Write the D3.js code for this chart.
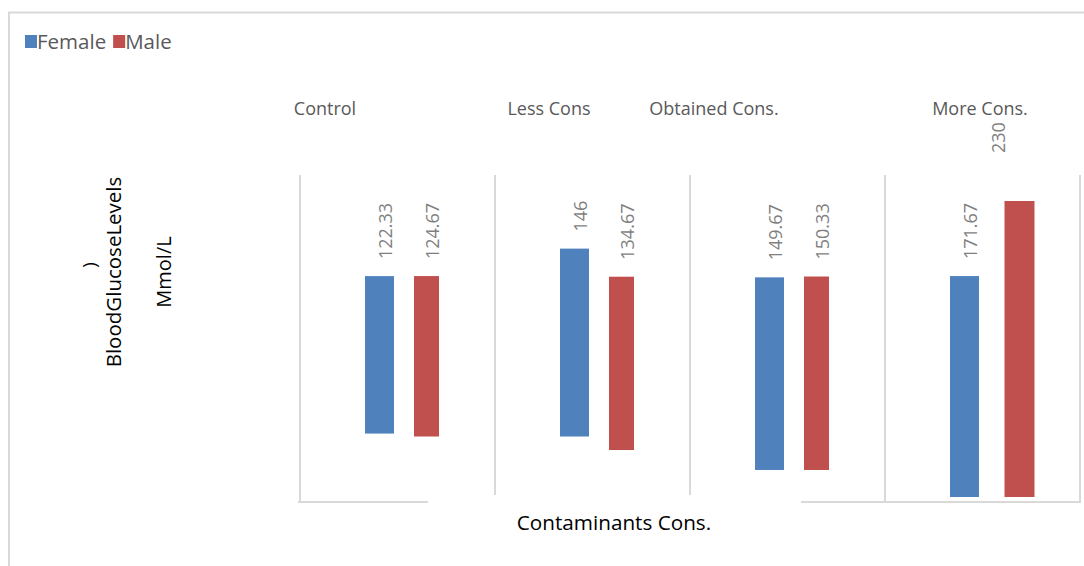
<!DOCTYPE html>
<html>
<head>
<meta charset="utf-8">
<script src="https://cdnjs.cloudflare.com/ajax/libs/d3/7.8.5/d3.min.js"></script>
<style>
    body { margin: 0; background: #fff; }
    svg text { font-family: "Open Sans", "Noto Sans", sans-serif; }
</style>
</head>
<body>
<svg id="chart" width="1084" height="566"></svg>
<script>
// Data
var categories = ["Control", "Less Cons", "Obtained Cons.", "More Cons."];
var series = ["Female", "Male"];
var femaleValues = [122.33, 146, 149.67, 171.67];
var maleValues = [124.67, 134.67, 150.33, 230];
// invisible offset each floating bar starts from (same units as the values)
var femaleBase = [49.3, 47, 21, 0];
var maleBase = [47, 36.5, 21, 0];
var colors = ["#4F81BD", "#C0504D"];

var svg = d3.select("#chart");

// outer chart frame (only top and left edges show)
svg.append("path")
    .attr("d", "M9,566 V12.5 H1084")
    .attr("fill", "none")
    .attr("stroke", "#D9D9D9")
    .attr("stroke-width", 2);

var x0 = d3.scaleBand().domain(categories).range([300, 1080]);
var x1 = d3.scaleBand().domain(series).range([56, 150]);
var y = d3.scaleLinear().domain([0, 230]).range([497, 201]);

// panel separators
var grid = svg.append("g").attr("stroke", "#D9D9D9").attr("stroke-width", 2);
categories.forEach(function(c, i) {
    var xx = x0(c);
    grid.append("line")
        .attr("x1", xx).attr("x2", xx)
        .attr("y1", 175).attr("y2", (i == 0 || i == 3) ? 503 : 495);
});
grid.append("line").attr("x1", 1080).attr("x2", 1080).attr("y1", 175).attr("y2", 503);
grid.append("line").attr("x1", 298).attr("x2", 428).attr("y1", 502).attr("y2", 502);
grid.append("line").attr("x1", 801).attr("x2", 1081).attr("y1", 502).attr("y2", 502);

// build rows for the bars
var rows = [];
categories.forEach(function(c, i) {
    rows.push({cat: c, s: "Female", value: femaleValues[i], base: femaleBase[i], color: colors[0], w: 29});
    rows.push({cat: c, s: "Male", value: maleValues[i], base: maleBase[i], color: colors[1], w: (i == 3 ? 30 : 25)});
});
var maxValue = d3.max(rows, function(d) { return d.value; });

var cx = function(d) {
    var off = (d.s == "Male" && d.value == maxValue) ? 8 : 0;
    return x0(d.cat) + x1(d.s) + x1.bandwidth() / 2 + off;
};

svg.append("g").selectAll("rect")
    .data(rows)
    .enter()
    .append("rect")
    .attr("x", function(d) { return cx(d) - d.w / 2; })
    .attr("width", function(d) { return d.w; })
    .attr("y", function(d) { return y(d.base + d.value); })
    .attr("height", function(d) { return y(d.base) - y(d.base + d.value); })
    .attr("fill", function(d) { return d.color; });

// value labels, rotated
svg.append("g").selectAll("text")
    .data(rows)
    .enter()
    .append("text")
    .attr("transform", function(d) {
        var top = y(d.base + d.value);
        var isMax = d.value == maxValue;
        var lx = isMax ? cx(d) - 15 : cx(d) + 12;
        var ly = top - (isMax ? 48 : 17);
        return "translate(" + lx + "," + ly + ") rotate(-90)";
    })
    .attr("fill", "#7F7F7F")
    .attr("font-size", 18)
    .text(function(d) { return d.value; });

// category labels along the top
var catLabelX = [325, 549, 714, 980];
svg.append("g").selectAll("text")
    .data(categories)
    .enter()
    .append("text")
    .attr("x", function(d, i) { return catLabelX[i]; })
    .attr("y", 115)
    .attr("text-anchor", "middle")
    .attr("fill", "#595959")
    .attr("font-size", 18)
    .text(function(d) { return d; });

// legend
var legend = svg.append("g").attr("transform", "translate(25,35)");
var lx = 0;
series.forEach(function(s, i) {
    legend.append("rect")
        .attr("x", lx).attr("y", 0)
        .attr("width", 12).attr("height", 13)
        .attr("fill", colors[i]);
    var t = legend.append("text")
        .attr("x", lx + 12).attr("y", 14)
        .attr("fill", "#595959")
        .attr("font-size", 20.5)
        .text(s);
    lx += 12 + t.node().getComputedTextLength() + 7;
});

// axis titles
svg.append("text")
    .attr("transform", "translate(121,272) rotate(-90)")
    .attr("text-anchor", "middle")
    .attr("fill", "#000")
    .attr("font-size", 20.5)
    .text("BloodGlucoseLevels");
svg.append("text")
    .attr("transform", "translate(96,265) rotate(-90)")
    .attr("text-anchor", "middle")
    .attr("fill", "#000")
    .attr("font-size", 19)
    .text(")");
svg.append("text")
    .attr("transform", "translate(171,272) rotate(-90)")
    .attr("text-anchor", "middle")
    .attr("fill", "#000")
    .attr("font-size", 20)
    .text("Mmol/L");
svg.append("text")
    .attr("x", 614).attr("y", 530)
    .attr("text-anchor", "middle")
    .attr("fill", "#000")
    .attr("font-size", 20.7)
    .text("Contaminants Cons.");
</script>
</body>
</html>
